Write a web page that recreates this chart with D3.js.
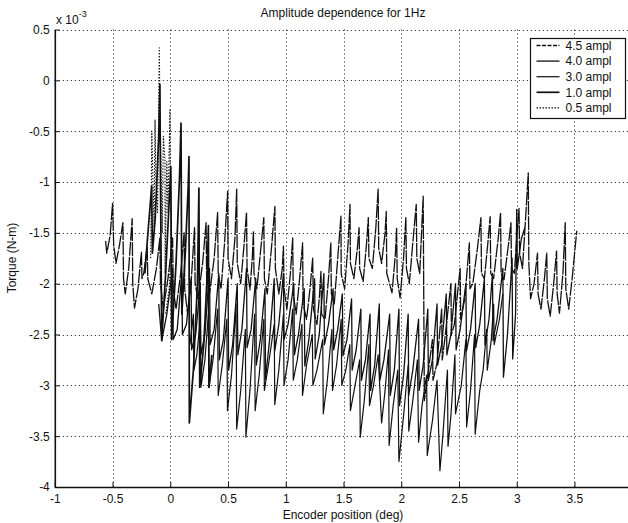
<!DOCTYPE html>
<html>
<head>
<meta charset="utf-8">
<script src="https://d3js.org/d3.v7.min.js"></script>
<style>
  body { margin: 0; background: #fff; }
  svg text { font-family: "Liberation Sans", Arial, sans-serif; fill: #111; }
</style>
</head>
<body>
<div id="chart"></div>
<script>
// tick values / labels
const xTicks = [-1, -0.5, 0, 0.5, 1, 1.5, 2, 2.5, 3, 3.5];
const yTicks = [-4, -3.5, -3, -2.5, -2, -1.5, -1, -0.5, 0, 0.5];
const seriesNames = ["4.5 ampl", "4.0 ampl", "3.0 ampl", "1.0 ampl", "0.5 ampl"];

// traces: [encoder deg, torque x1e-3 N-m]
const amp45 = [[-0.56,-1.58],[-0.55,-1.70],[-0.52,-1.52],[-0.50,-1.21],[-0.49,-1.62],[-0.47,-1.80],[-0.44,-1.62],[-0.41,-1.40],[-0.405,-1.95],[-0.39,-2.10],[-0.36,-1.85],[-0.33,-1.36],[-0.325,-2.00],[-0.31,-2.24],[-0.28,-2.05],[-0.25,-1.69],[-0.245,-1.95],[-0.23,-1.90],[-0.20,-1.63],[-0.195,-1.95],[-0.16,-2.10],[-0.12,-1.85],[-0.09,-1.55],[-0.085,-2.00],[-0.06,-2.25],[-0.02,-1.95],[0.02,-1.55],[0.025,-2.05],[0.05,-2.25],[0.09,-1.90],[0.12,-1.50],[0.125,-2.05],[0.15,-2.30],[0.18,-2.00],[0.21,-1.45],[0.215,-2.00],[0.24,-2.15],[0.28,-1.80],[0.31,-1.40],[0.315,-1.95],[0.34,-2.10],[0.38,-1.75],[0.41,-1.30],[0.415,-1.90],[0.44,-2.05],[0.47,-1.60],[0.497,-1.09],[0.50,-1.75],[0.53,-1.95],[0.56,-1.55],[0.575,-1.07],[0.58,-1.80],[0.61,-2.00],[0.64,-1.60],[0.66,-1.30],[0.665,-1.85],[0.69,-2.06],[0.71,-1.75],[0.72,-1.48],[0.725,-1.90],[0.75,-2.05],[0.78,-1.70],[0.81,-1.35],[0.815,-1.95],[0.84,-2.10],[0.88,-1.60],[0.906,-1.24],[0.91,-1.85],[0.94,-2.10],[0.97,-1.85],[0.98,-1.63],[0.985,-2.05],[1.01,-2.25],[1.04,-1.90],[1.06,-1.55],[1.065,-2.10],[1.09,-2.30],[1.12,-1.95],[1.146,-1.60],[1.15,-2.20],[1.18,-2.35],[1.21,-2.05],[1.233,-1.75],[1.24,-2.25],[1.27,-2.40],[1.29,-2.15],[1.305,-1.88],[1.31,-2.30],[1.34,-2.35],[1.37,-1.95],[1.39,-1.60],[1.395,-2.10],[1.42,-2.20],[1.45,-1.75],[1.478,-1.335],[1.48,-1.90],[1.51,-2.05],[1.54,-1.60],[1.556,-1.22],[1.56,-1.80],[1.59,-1.95],[1.62,-1.65],[1.635,-1.45],[1.64,-1.85],[1.67,-1.98],[1.70,-1.60],[1.715,-1.35],[1.72,-1.75],[1.75,-1.85],[1.78,-1.45],[1.80,-1.07],[1.805,-1.65],[1.83,-1.80],[1.86,-1.50],[1.87,-1.29],[1.875,-1.90],[1.92,-2.09],[1.95,-1.70],[1.96,-1.45],[1.965,-1.95],[1.99,-2.14],[2.02,-1.75],[2.04,-1.35],[2.045,-1.85],[2.07,-2.00],[2.10,-1.60],[2.13,-1.22],[2.135,-1.75],[2.16,-1.90],[2.19,-1.14],[2.20,-3.15],[2.23,-2.90],[2.27,-2.55],[2.275,-2.95],[2.31,-2.78],[2.35,-2.25],[2.355,-2.75],[2.38,-2.52],[2.43,-2.00],[2.435,-2.50],[2.46,-2.40],[2.51,-1.85],[2.515,-2.35],[2.55,-2.15],[2.59,-1.60],[2.595,-2.05],[2.62,-2.00],[2.66,-1.65],[2.69,-1.35],[2.695,-1.90],[2.72,-1.95],[2.75,-1.60],[2.77,-1.34],[2.775,-1.90],[2.80,-1.95],[2.84,-1.55],[2.86,-1.30],[2.865,-1.90],[2.89,-1.96],[2.93,-1.60],[2.95,-1.40],[2.955,-1.85],[2.98,-1.90],[3.00,-1.55],[3.02,-1.26],[3.025,-1.70],[3.05,-1.85],[3.08,-1.30],[3.10,-0.91],[3.105,-1.80],[3.12,-2.15],[3.15,-2.00],[3.18,-1.70],[3.185,-2.10],[3.21,-2.25],[3.24,-1.95],[3.26,-1.70],[3.265,-2.15],[3.29,-2.32],[3.32,-2.00],[3.345,-1.68],[3.35,-2.10],[3.37,-2.29],[3.40,-1.90],[3.42,-1.40],[3.425,-2.05],[3.45,-2.25],[3.48,-1.95],[3.52,-1.48]];

const amp40 = [[-0.10,-2.20],[-0.074,-2.56],[-0.03,-2.30],[0.02,-1.85],[0.025,-2.55],[0.06,-2.45],[0.10,-1.90],[0.105,-2.50],[0.14,-2.40],[0.18,-1.95],[0.185,-2.65],[0.22,-2.50],[0.26,-2.00],[0.265,-2.70],[0.30,-2.50],[0.34,-1.85],[0.345,-2.60],[0.38,-2.45],[0.42,-1.90],[0.425,-2.75],[0.46,-2.55],[0.50,-1.95],[0.505,-2.85],[0.54,-2.60],[0.58,-2.00],[0.585,-2.70],[0.62,-2.45],[0.66,-1.85],[0.665,-2.63],[0.70,-2.45],[0.74,-1.95],[0.745,-2.80],[0.78,-2.55],[0.82,-2.05],[0.825,-2.94],[0.86,-2.55],[0.90,-1.95],[0.905,-2.66],[0.94,-2.40],[0.98,-1.90],[0.985,-2.55],[1.02,-2.40],[1.07,-2.00],[1.075,-2.70],[1.11,-2.50],[1.16,-2.05],[1.165,-2.81],[1.20,-2.55],[1.25,-1.95],[1.255,-2.74],[1.29,-2.50],[1.33,-1.90],[1.335,-2.60],[1.37,-2.40],[1.41,-2.05],[1.415,-2.65],[1.45,-2.45],[1.49,-2.10],[1.495,-2.71],[1.53,-2.55],[1.57,-2.15],[1.575,-2.85],[1.61,-2.65],[1.65,-2.25],[1.655,-2.95],[1.69,-2.75],[1.73,-2.30],[1.735,-3.05],[1.77,-2.80],[1.81,-2.20],[1.815,-2.95],[1.85,-2.75],[1.90,-2.30],[1.905,-3.10],[1.94,-2.85],[1.98,-2.25],[1.985,-3.20],[2.02,-2.90],[2.06,-2.30],[2.065,-3.10],[2.10,-2.85],[2.15,-2.35],[2.155,-3.05],[2.19,-2.80],[2.23,-2.25],[2.235,-2.95],[2.27,-2.75],[2.31,-2.20],[2.315,-2.80],[2.35,-2.60],[2.39,-2.10],[2.395,-2.70],[2.43,-2.50],[2.47,-2.00],[2.475,-2.65],[2.51,-2.45],[2.56,-2.00],[2.565,-2.66],[2.60,-2.45],[2.64,-2.00],[2.645,-2.63],[2.68,-2.40],[2.72,-1.95],[2.725,-2.60],[2.76,-2.35],[2.79,-1.90],[2.795,-2.56],[2.83,-2.35],[2.88,-1.85],[2.885,-2.92],[2.92,-2.50],[2.96,-1.75],[2.965,-2.74],[2.99,-2.30],[3.00,-1.27],[3.005,-1.85],[3.04,-1.56],[3.07,-1.45]];

const amp30 = [[0.17,-2.60],[0.20,-2.30],[0.205,-2.85],[0.23,-2.70],[0.26,-2.35],[0.265,-3.02],[0.30,-2.75],[0.33,-2.30],[0.335,-3.02],[0.37,-2.75],[0.41,-2.25],[0.415,-3.10],[0.45,-2.80],[0.49,-2.35],[0.495,-3.25],[0.53,-2.90],[0.57,-2.20],[0.575,-3.43],[0.61,-3.05],[0.65,-2.45],[0.655,-3.51],[0.69,-3.05],[0.73,-2.30],[0.735,-3.25],[0.77,-2.90],[0.81,-2.35],[0.815,-3.05],[0.85,-2.80],[0.90,-2.40],[0.905,-3.19],[0.94,-2.85],[0.98,-2.30],[0.985,-3.00],[1.02,-2.75],[1.06,-2.25],[1.065,-2.95],[1.10,-2.75],[1.14,-2.40],[1.145,-3.10],[1.18,-2.80],[1.23,-2.50],[1.235,-3.00],[1.27,-2.85],[1.32,-2.55],[1.325,-3.28],[1.36,-2.95],[1.40,-2.45],[1.405,-3.05],[1.44,-2.80],[1.48,-2.35],[1.485,-3.00],[1.52,-2.85],[1.555,-2.60],[1.56,-3.25],[1.60,-3.00],[1.64,-2.75],[1.645,-3.51],[1.68,-3.15],[1.72,-2.60],[1.725,-3.20],[1.76,-3.00],[1.80,-2.70],[1.83,-3.37],[1.86,-3.05],[1.89,-2.65],[1.895,-3.59],[1.93,-3.20],[1.97,-2.85],[1.98,-3.75],[2.02,-3.30],[2.06,-2.80],[2.065,-3.45],[2.10,-3.15],[2.14,-2.75],[2.15,-3.56],[2.18,-3.20],[2.22,-2.90],[2.225,-3.69],[2.27,-3.35],[2.31,-2.95],[2.335,-3.84],[2.36,-3.50],[2.40,-2.85],[2.405,-3.60],[2.43,-3.30],[2.465,-2.70],[2.47,-3.28],[2.52,-3.00],[2.56,-2.55],[2.566,-3.41],[2.60,-3.05],[2.635,-2.50],[2.64,-3.48],[2.68,-3.05],[2.71,-2.84],[2.74,-2.45],[2.745,-2.85],[2.78,-2.55],[2.80,-2.20],[2.805,-2.60],[2.85,-2.35],[2.88,-2.10]];

const amp10 = [[-0.22,-1.90],[-0.19,-1.45],[-0.161,-1.04],[-0.155,-1.70],[-0.13,-1.35],[-0.10,-0.55],[-0.09,-0.04],[-0.085,-0.95],[-0.074,-2.56],[-0.04,-1.90],[-0.01,-1.20],[0.005,-0.85],[0.012,-2.55],[0.05,-1.80],[0.08,-0.95],[0.093,-0.42],[0.10,-2.30],[0.13,-1.70],[0.155,-1.05],[0.162,-0.75],[0.165,-3.37],[0.20,-2.85],[0.235,-2.00],[0.248,-1.06],[0.255,-3.02],[0.29,-2.60],[0.32,-1.90],[0.33,-1.43],[0.335,-3.02],[0.36,-2.70]];

const amp05 = [[-0.17,-1.75],[-0.165,-1.20],[-0.16,-0.50],[-0.15,-1.00],[-0.14,-1.45],[-0.132,-0.39],[-0.125,-0.95],[-0.11,-1.30],[-0.095,0.32],[-0.09,-0.30],[-0.08,-0.85],[-0.07,-1.50],[-0.06,-0.55],[-0.046,-0.78],[-0.045,-1.90],[-0.03,-0.80],[-0.02,-1.30],[-0.003,-0.29],[0.0,-1.00],[0.01,-1.60],[-0.01,-2.05],[-0.04,-2.30]];

const allSeries = [amp45, amp40, amp30, amp10, amp05];
const styles = [
  { dash: "14,1.2", width: 1.3 },
  { dash: null, width: 1.3 },
  { dash: null, width: 1.2 },
  { dash: null, width: 1.7 },
  { dash: "1.5,1.5", width: 1.1 }
];

const W = 628, H = 523;
const mLeft = 54.8, mRight = 632.2, mTop = 29.5, mBottom = 487;

const svg = d3.select("#chart").append("svg")
  .attr("width", W).attr("height", H);

const x = d3.scaleLinear().domain([-1, 4]).range([mLeft, mRight]);
const y = d3.scaleLinear().domain([-4, 0.5]).range([mBottom, mTop]);
const crisp = v => Math.round(v) + 0.5;

// dotted grid
const grid = svg.append("g").attr("stroke", "#111").attr("stroke-width", 1)
  .attr("stroke-dasharray", "1,3");
grid.selectAll("line.gx").data(xTicks.slice(1)).join("line")
  .attr("x1", d => crisp(x(d))).attr("x2", d => crisp(x(d)))
  .attr("y1", mTop).attr("y2", mBottom);
grid.selectAll("line.gy").data(yTicks.slice(1)).join("line")
  .attr("x1", mLeft).attr("x2", mRight)
  .attr("y1", d => crisp(y(d))).attr("y2", d => crisp(y(d)));

// traces
const line = d3.line().x(d => x(d[0])).y(d => y(d[1]));
svg.append("g").selectAll("path").data(allSeries).join("path")
  .attr("d", line)
  .attr("fill", "none")
  .attr("stroke", "#111")
  .attr("stroke-width", (d, i) => styles[i].width)
  .attr("stroke-dasharray", (d, i) => styles[i].dash)
  .attr("stroke-linejoin", "round");

// axes
const fmt = d => String(d);
const xAxis = svg.append("g").attr("transform", `translate(0,${mBottom})`)
  .call(d3.axisBottom(x).tickValues(xTicks).tickFormat(fmt).tickSizeInner(-5).tickSizeOuter(0).tickPadding(7));
const yAxis = svg.append("g").attr("transform", `translate(${mLeft},0)`)
  .call(d3.axisLeft(y).tickValues(yTicks).tickFormat(fmt).tickSizeInner(-5).tickSizeOuter(0).tickPadding(5));
[xAxis, yAxis].forEach(a => {
  a.select(".domain").attr("stroke", "#111").attr("stroke-width", 1.6);
  a.selectAll(".tick line").attr("stroke", "#111");
  a.selectAll("text").attr("font-size", 12).attr("font-family", "Liberation Sans, Arial, sans-serif").attr("fill", "#111");
});

// exponent label
const ex = svg.append("text").attr("x", 56).attr("y", 24).attr("font-size", 12);
ex.append("tspan").text("x 10");
ex.append("tspan").attr("font-size", 9).attr("dy", -7).text("-3");

// title and axis labels
svg.append("text").attr("x", 343).attr("y", 17).attr("text-anchor", "middle")
  .attr("font-size", 12).text("Amplitude dependence for 1Hz");
svg.append("text").attr("x", 343).attr("y", 519).attr("text-anchor", "middle")
  .attr("font-size", 12).text("Encoder position (deg)");
svg.append("text").attr("transform", "translate(16,258) rotate(-90)")
  .attr("text-anchor", "middle").attr("font-size", 12).text("Torque (N-m)");

// legend
const lg = svg.append("g").attr("transform", "translate(530.5,38.5)");
lg.append("rect").attr("width", 95).attr("height", 80)
  .attr("fill", "#fff").attr("stroke", "#111").attr("stroke-width", 1.2);
const items = lg.selectAll("g.item").data(seriesNames).join("g")
  .attr("transform", (d, i) => `translate(0,${7 + i * 15.6})`);
items.append("line").attr("x1", 6).attr("x2", 29)
  .attr("stroke", "#111")
  .attr("stroke-width", (d, i) => styles[i].width)
  .attr("stroke-dasharray", (d, i) => d === "4.5 ampl" ? "4,1.5" : styles[i].dash);
items.append("text").attr("x", 35).attr("dy", "0.35em")
  .attr("font-size", 12).text(d => d);
</script>
</body>
</html>
